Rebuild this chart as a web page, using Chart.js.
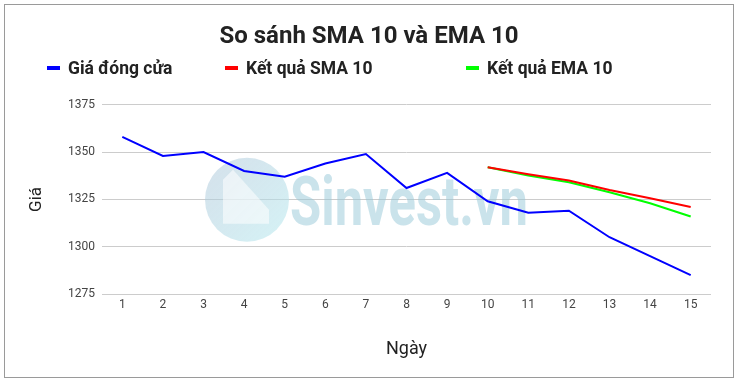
<!DOCTYPE html>
<html>
<head>
<meta charset="utf-8">
<script src="https://cdn.jsdelivr.net/npm/chart.js@4/dist/chart.umd.min.js"></script>
<style>
  html, body { margin: 0; padding: 0; background: #fff; }
  #wrap { position: relative; width: 738px; height: 382px; overflow: hidden; }
  #frame { position: absolute; left: 4px; top: 4px; width: 728px; height: 372px; border: 1px solid #9a9a9a; pointer-events: none; }
  canvas { position: absolute; left: 0; top: 0; }
  .lg { position: absolute; top: 57px; font: bold 17.5px Roboto, "Noto Sans", sans-serif; color: #222; white-space: nowrap; line-height: 22px; }
  .lg i { display: inline-block; width: 13px; height: 4px; vertical-align: middle; margin-right: 8px; position: relative; top: -1px; }
</style>
</head>
<body>
<div id="wrap">
  <canvas id="c" width="738" height="382"></canvas>
  <div id="frame"></div>
  <div class="lg" style="left:47px"><i style="background:#0000ff"></i>Giá đóng cửa</div>
  <div class="lg" style="left:225px"><i style="background:#ff0000"></i>Kết quả SMA 10</div>
  <div class="lg" style="left:466px"><i style="background:#00ff00"></i>Kết quả EMA 10</div>
</div>
<script>
const days = ['1','2','3','4','5','6','7','8','9','10','11','12','13','14','15'];
const closePrice = [1358, 1348, 1350, 1340, 1337, 1344, 1349, 1331, 1339, 1324, 1318, 1319, 1305, 1295, 1285];
const sma10 = [null, null, null, null, null, null, null, null, null, 1342, 1338.3, 1335, 1330, 1325.6, 1321];
const ema10 = [null, null, null, null, null, null, null, null, null, 1342, 1337.6, 1334.1, 1328.8, 1323, 1316];
const yTicks = [1275, 1300, 1325, 1350, 1375];

const watermark = {
  id: 'watermark',
  beforeDatasetsDraw(chart) {
    const { ctx, chartArea: a } = chart;
    ctx.save();
    const cx = a.left + 145, cy = a.top + 95, r = 42;
    const g = ctx.createLinearGradient(cx - r, cy - r, cx + r, cy + r);
    g.addColorStop(0, 'rgba(170,195,215,0.5)');
    g.addColorStop(1, 'rgba(185,235,240,0.6)');
    ctx.fillStyle = g;
    ctx.beginPath(); ctx.arc(cx, cy, r, 0, Math.PI * 2); ctx.fill();
    ctx.fillStyle = 'rgba(255,255,255,0.55)';
    ctx.beginPath();
    ctx.moveTo(cx - 24, cy - 20); ctx.lineTo(cx - 14, cy - 30); ctx.lineTo(cx + 22, cy + 10);
    ctx.lineTo(cx + 22, cy + 24); ctx.lineTo(cx - 24, cy + 24); ctx.closePath(); ctx.fill();
    ctx.fillStyle = 'rgba(150,200,215,0.5)';
    ctx.font = 'bold 68px Roboto, sans-serif';
    ctx.textBaseline = 'alphabetic';
    const w = ctx.measureText('Sinvest.vn').width;
    ctx.translate(a.left + 188, a.top + 120);
    ctx.scale(238 / w, 1);
    ctx.fillText('Sinvest.vn', 0, 0);
    ctx.restore();
  }
};

new Chart(document.getElementById('c'), {
  type: 'line',
  data: {
    labels: days,
    datasets: [
      { label: 'Giá đóng cửa', data: closePrice, borderColor: '#0000ff', backgroundColor: '#0000ff' },
      { label: 'Kết quả SMA 10', data: sma10, borderColor: '#ff0000', backgroundColor: '#ff0000' },
      { label: 'Kết quả EMA 10', data: ema10, borderColor: '#00ff00', backgroundColor: '#00ff00' }
    ]
  },
  options: {
    responsive: false,
    animation: false,
    layout: { padding: 0 },
    elements: { line: { borderWidth: 2, tension: 0 }, point: { radius: 0 } },
    plugins: {
      legend: { display: false },
      tooltip: { enabled: false },
      title: {
        display: true,
        text: 'So sánh SMA 10 và EMA 10',
        color: '#222',
        font: { family: 'Roboto', size: 24, weight: 'bold' },
        padding: { top: 23, bottom: 53 }
      }
    },
    scales: {
      x: {
        offset: true,
        grid: { display: false, drawTicks: false, offset: true },
        border: { display: false },
        ticks: { color: '#444', font: { family: 'Roboto', size: 12 }, padding: 4, maxRotation: 0 },
        title: { display: true, text: 'Ngày', color: '#222', font: { family: 'Roboto', size: 18 }, padding: { top: 0, bottom: 22 } },
        afterFit(s) { s.height = 88; }
      },
      y: {
        min: 1275, max: 1375,
        afterBuildTicks(s) { s.ticks = yTicks.map(v => ({ value: v })); },
        grid: { color: '#cccccc', drawTicks: false },
        border: { display: false },
        ticks: { color: '#444', font: { family: 'Roboto', size: 12 }, padding: 7, callback: v => String(v) },
        title: { display: true, text: 'Giá', color: '#222', font: { family: 'Roboto', size: 17 }, padding: { top: 27, bottom: 0 } },
        afterFit(s) { s.width = 102; }
      },
      yRight: {
        position: 'right',
        display: true,
        min: 1275, max: 1375,
        grid: { display: false, drawTicks: false },
        border: { display: false },
        ticks: { display: false },
        afterFit(s) { s.width = 27; }
      }
    }
  },
  plugins: [watermark]
});
</script>
</body>
</html>
